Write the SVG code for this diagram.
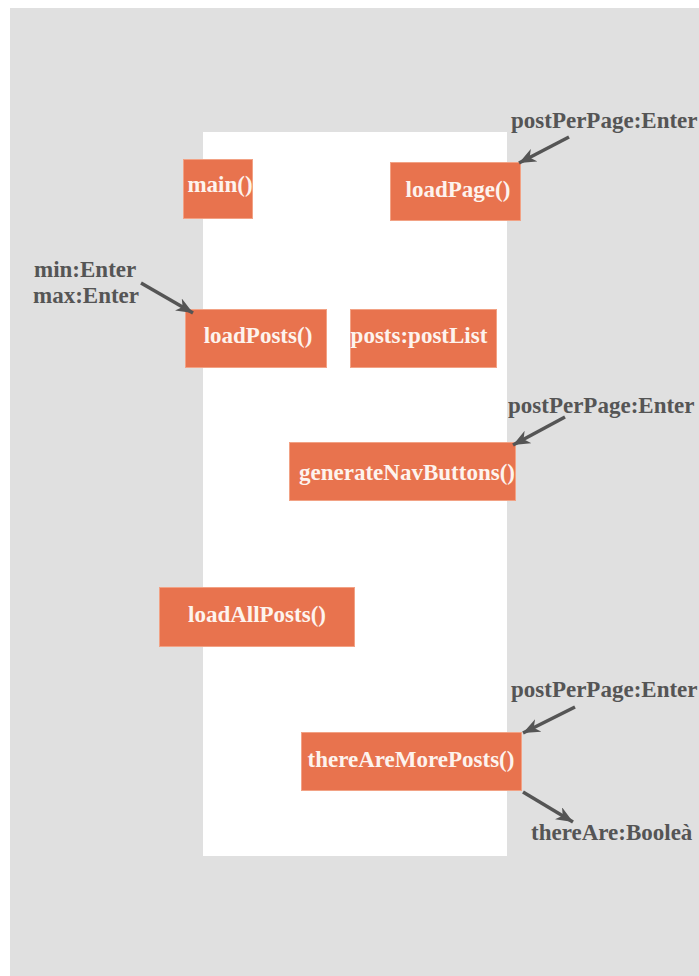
<svg xmlns="http://www.w3.org/2000/svg" width="699" height="976" viewBox="0 0 699 976">
  <style>
    .box { fill: #e8734e; stroke: #f2a285; stroke-width: 1; }
    .lbl { font-family: "Liberation Serif", "Times New Roman", serif; font-weight: bold; font-size: 23px; fill: #fdf3ee; text-anchor: middle; }
    .note { font-family: "Liberation Serif", "Times New Roman", serif; font-weight: bold; font-size: 23px; fill: #555555; }
    .arrow { stroke: #555555; stroke-width: 3.5; fill: none; marker-end: url(#head); }
  </style>
  <defs>
    <marker id="head" markerUnits="userSpaceOnUse" markerWidth="18" markerHeight="14" refX="17" refY="7" orient="auto">
      <path d="M0,0 L17,7 L0,14 L5,7 z" fill="#555555"/>
    </marker>
  </defs>

  <!-- canvas -->
  <rect x="0" y="0" width="699" height="976" fill="#ffffff"/>
  <rect x="10" y="8" width="689" height="968" fill="#e0e0e0"/>
  <rect x="203" y="132" width="304" height="724" fill="#ffffff"/>

  <g id="main">
    <rect class="box" x="183.5" y="159.5" width="69" height="59"/>
    <text class="lbl" x="220" y="192">main()</text>
  </g>
  <g id="loadPage">
    <rect class="box" x="390.5" y="162.5" width="130" height="58"/>
    <text class="lbl" x="458" y="197">loadPage()</text>
  </g>
  <g id="loadPosts">
    <rect class="box" x="185.5" y="309.5" width="141" height="58"/>
    <text class="lbl" x="258" y="343">loadPosts()</text>
  </g>
  <g id="posts">
    <rect class="box" x="350.5" y="309.5" width="146" height="58"/>
    <text class="lbl" x="419" y="343">posts:postList</text>
  </g>
  <g id="generateNavButtons">
    <rect class="box" x="289.5" y="442.5" width="226" height="58"/>
    <text class="lbl" x="407" y="480">generateNavButtons()</text>
  </g>
  <g id="loadAllPosts">
    <rect class="box" x="159.5" y="587.5" width="195" height="59"/>
    <text class="lbl" x="257" y="622">loadAllPosts()</text>
  </g>
  <g id="thereAreMorePosts">
    <rect class="box" x="301.5" y="732.5" width="220" height="58"/>
    <text class="lbl" x="411" y="767">thereAreMorePosts()</text>
  </g>

  <!-- parameter and return notes -->
  <g id="notes">
    <text class="note" x="511" y="128">postPerPage:Enter</text>
    <text class="note" x="34" y="277">min:Enter</text>
    <text class="note" x="33" y="303">max:Enter</text>
    <text class="note" x="508" y="413">postPerPage:Enter</text>
    <text class="note" x="511" y="697">postPerPage:Enter</text>
    <text class="note" x="531" y="840">thereAre:Booleà</text>
  </g>

  <g id="connectors">
    <line class="arrow" x1="569" y1="137" x2="519" y2="163"/>
    <line class="arrow" x1="141" y1="283" x2="193" y2="313"/>
    <line class="arrow" x1="565" y1="417" x2="513" y2="445"/>
    <line class="arrow" x1="575" y1="707" x2="523" y2="733"/>
    <line class="arrow" x1="523" y1="792" x2="573" y2="822"/>
  </g>
</svg>
